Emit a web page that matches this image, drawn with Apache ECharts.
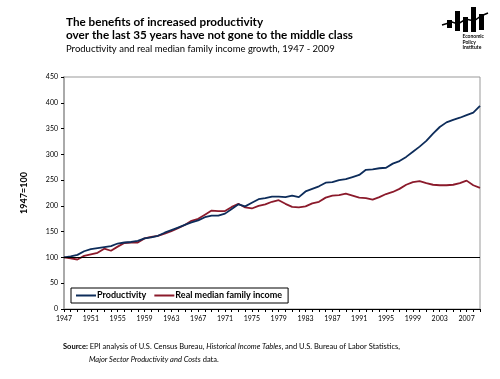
<!DOCTYPE html>
<html><head><meta charset="utf-8">
<script src="https://cdn.jsdelivr.net/npm/echarts@6/dist/echarts.min.js"></script>
<style>html,body{margin:0;padding:0;background:#fff}#c{width:500px;height:379px}</style>
</head><body><div id="c"></div>
<script>
const years = [];
for (let y = 1947; y <= 2009; y++) years.push(String(y));
const productivity = [100,102,105,112,116,118,120,122,127,129,130,132,137,139,142,148,153,158,163,168,172,178,181,181,185,194,203,199,206,213,215,218,218,217,220,217,228,233,238,245,246,250,252,256,260,270,271,273,274,282,287,295,305,315,326,340,353,362,367,371,376,381,394];
const income = [100,98,96,103,106,109,117,113,121,128,129,129,137,140,142,146,151,157,163,171,175,183,191,190,190,198,204,197,195,200,203,208,211,204,198,197,199,205,208,216,220,221,224,220,216,215,212,217,223,227,233,241,246,248,244,241,240,240,241,244,249,240,235];
const yTicks = [0,50,100,150,200,250,300,350,400,450];
const seriesNames = ['Productivity','Real median family income'];

const chart = echarts.init(document.getElementById('c'), null, {renderer:'canvas'});
const F = 'Lato, Open Sans, sans-serif';
chart.setOption({
  animation:false,
  backgroundColor:'#fff',
  grid:{left:64,right:20,top:77,bottom:70,show:true,borderColor:'#999',borderWidth:1},
  title:[
    {text:'The benefits of increased productivity\nover the last 35 years have not gone to the middle class',
     left:61,top:11,textStyle:{fontFamily:F,fontSize:11.7,fontWeight:'bold',color:'#000',lineHeight:13}},
    {text:'Productivity and real median family income growth, 1947 - 2009',
     left:61,top:39,textStyle:{fontFamily:F,fontSize:9.5,fontWeight:'normal',color:'#000'}}
  ],
  legend:{
    left:71,top:288,
    itemWidth:20,itemHeight:2,itemGap:8,
    icon:'rect',
    borderColor:'#000',borderWidth:1,padding:[3,6,3,5],
    textStyle:{fontFamily:F,fontSize:9,fontWeight:'bold',color:'#000',padding:[0,0,0,-4]},
    data:seriesNames
  },
  xAxis:{
    type:'category',data:years,boundaryGap:false,
    axisLine:{lineStyle:{color:'#000',width:1}},
    axisTick:{interval:0,length:3,lineStyle:{color:'#000'}},
    axisLabel:{interval:3,fontFamily:F,fontSize:7,color:'#000',margin:6}
  },
  yAxis:{
    type:'value',min:0,max:450,interval:50,
    name:'1947=100',nameLocation:'middle',nameGap:35,nameRotate:90,
    nameTextStyle:{fontFamily:F,fontSize:9,fontWeight:'bold',color:'#000'},
    axisLine:{show:true,lineStyle:{color:'#aaa',width:2}},
    axisTick:{show:true,length:3,lineStyle:{color:'#000'}},
    splitLine:{show:false},
    axisLabel:{fontFamily:F,fontSize:7,color:'#000',margin:6,
      formatter:v=>yTicks.includes(v)?String(v):''}
  },
  series:[
    {name:seriesNames[0],type:'line',data:productivity,symbol:'none',
     lineStyle:{color:'#0d2c5a',width:1.8},itemStyle:{color:'#0d2c5a'},z:3,
     markLine:{silent:true,symbol:['none','none'],label:{show:false},
       lineStyle:{color:'#000',width:1,type:'solid'},data:[{yAxis:100}]}},
    {name:seriesNames[1],type:'line',data:income,symbol:'none',
     lineStyle:{color:'#8b1a2b',width:1.8},itemStyle:{color:'#8b1a2b'},z:2}
  ],
  graphic:[
    {type:'text',left:63,top:343,style:{
      text:'{b|Source:} EPI analysis of U.S. Census Bureau, {i|Historical Income Tables}, and U.S. Bureau of Labor Statistics,',
      font:'7.5px '+F,fill:'#000',
      rich:{b:{fontWeight:'bold',fontSize:7.5,fontFamily:F},i:{fontStyle:'italic',fontSize:7.5,fontFamily:F}}}},
    {type:'text',left:89,top:356,style:{
      text:'{i|Major Sector Productivity and Costs} data.',
      font:'7.5px '+F,fill:'#000',
      rich:{i:{fontStyle:'italic',fontSize:7.5,fontFamily:F}}}},
    // EPI logo
    {type:'rect',shape:{x:447,y:20,width:5,height:8},style:{fill:'#000'}},
    {type:'rect',shape:{x:455,y:11,width:5,height:20},style:{fill:'#000'}},
    {type:'rect',shape:{x:463,y:17,width:5,height:15},style:{fill:'#000'}},
    {type:'rect',shape:{x:471,y:7,width:5,height:25},style:{fill:'#000'}},
    {type:'rect',shape:{x:479,y:14,width:5,height:16},style:{fill:'#000'}},
    {type:'polyline',shape:{points:[[442,25],[452,22],[458,24],[466,19],[474,21],[481,16],[488,13]]},
     style:{stroke:'#000',lineWidth:1.5,fill:null}},
    {type:'text',right:16,top:34,style:{text:'Economic\nPolicy\nInstitute',font:'bold 5px '+F,fill:'#000',align:'right',lineHeight:5.5}}
  ]
});
</script></body></html>
